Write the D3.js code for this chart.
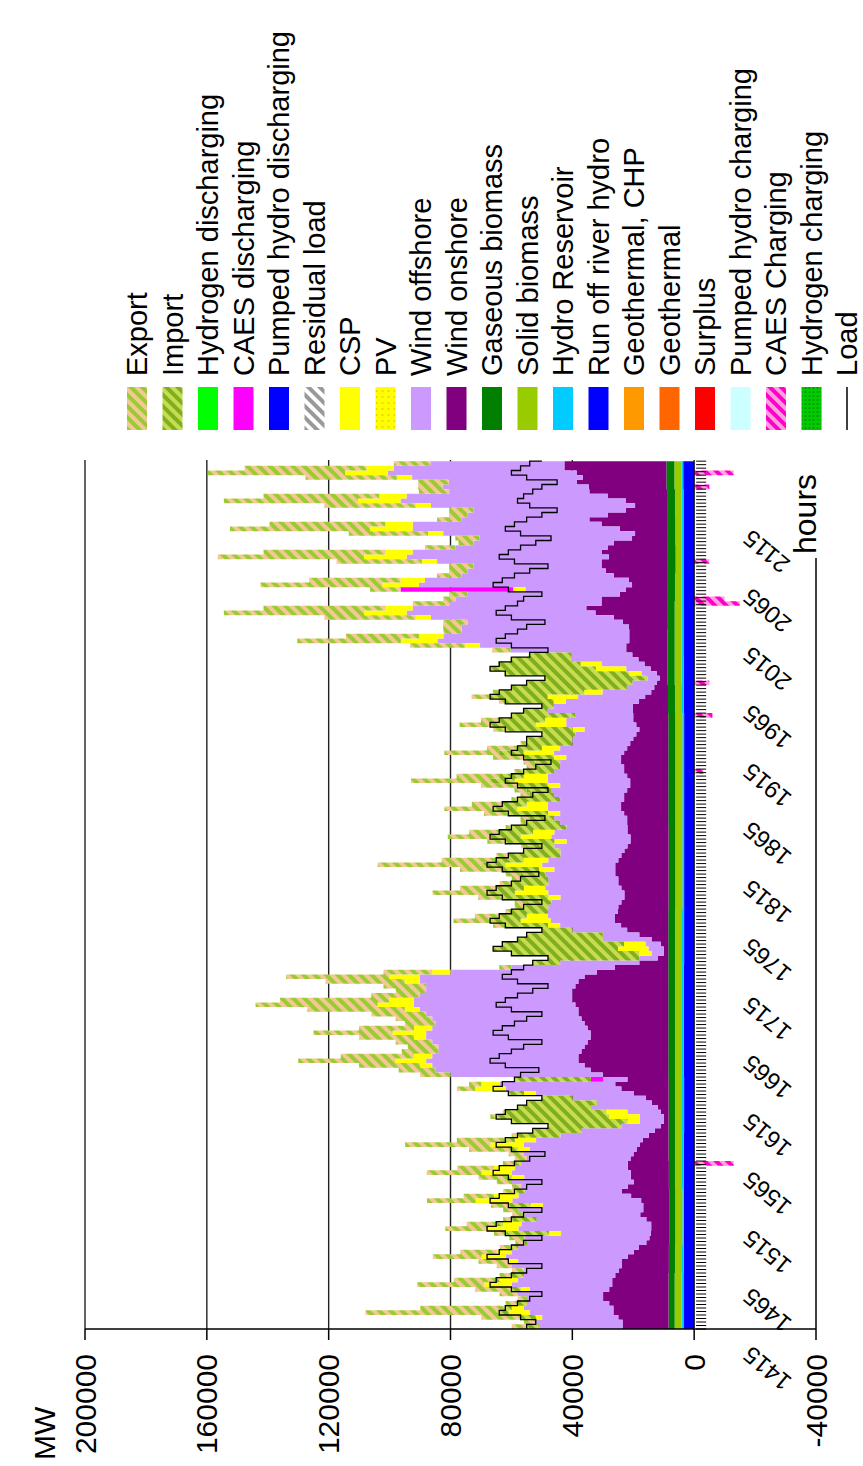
<!DOCTYPE html>
<html><head><meta charset="utf-8">
<script src="https://cdn.jsdelivr.net/npm/d3@7"></script>
<style>body{margin:0;background:#fff}svg{display:block}text{font-family:"Liberation Sans",Arial,sans-serif;fill:#000}</style>
</head><body><svg id="c" width="863" height="1466"></svg>
<script>
// ================= DATA (GW = 1000 MW) =================
// sampled every 4 hours, starting at hour 1415
const hourStart = 1415, hourStep = 4;
const windOnGW = [
15.1,15.1,16.5,18.1,18.1,19.5, 21.5,21.5,19.5,18.5,18.5,17.5, 16.5,15.5,15.5,13.5,11.5,9.9, 7.5,6.5,6,5.9,5.9,7.5,
9.5,8.5,8.5,9.2,12.5,15.5, 13.5,11.5,12.5,12.5,13.5,13.5, 12.5,11.5,10.5,9.5,8.5,6.5, 4.5,2.5,1.5,1.5,2.5,3.5,
5.5,7.5,11.5,15.5,17.5,13.5, 21.5,25.5,27.5,29.5,29.5,28.5, 27.5,26.5,25.5,25.5,26.5,27.5, 28.5,29.5,29.5,30.5,31.5,31.5,
31.5,30.5,29.5,27.5,23.5,17.5, 9.5,3.5,1.5,1.5,2.5,5.5, 9.5,13.5,15.5,17.5,17.5,16.5, 16.5,15.5,14.5,14.5,15.5,16.5,
16.5,17.5,17.5,17.5,16.5,15.5, 14.5,13.5,12.5,12.5,13.5,13.5, 13.5,13.5,14.5,15.5,15.5,14.5, 14.5,13.5,12.5,12.5,13.5,14.5,
14.5,15.5,15.5,14.5,13.5,12.5, 11.5,10.5,9.5,10.5,11.5,11.5, 11.5,11.5,9.5,7.5,5.5,4.5, 3.5,2.5,3.5,5.5,7.5,9.5,
11.5,13.5,13.5,12.5,12.5,12.5, 12.5,14.5,17.5,23.5,26.5,21.5, 21.5,15.5,13.5,11.5,12.5,17.5, 20.1,21.5,21.5,19.1,21.5,19.5,
17.5,11.5,10.5,15.5,21.5,25.5, 19.5,13.5,10.5,13.5,19.5,25.5, 25.5,29.5,27.5,29.5,33.5,33.5, 33.5];
const windOffGW = [
27.4,28.4,25,27.4,29.4,27, 25,28,26,33,31,30, 31,36,34,40,40,39.6, 39,41,29.5,43.6,42.6,36,
38,41,33,42.3,37,32, 35,40,35,39,37,35, 34,36,35,38,35,29, 24,13,8,8,11,22,
18,24,32,38,38,8, 50,51,50,50,48,47, 48,51,54,54,51,49, 49,50,52,53,52,50,
48,49,52,54,48,34, 26,6,4,5,5,16, 12,18,20,21,22,23, 23,23,21,25,25,23,
23,23,20,24,23,20, 21,24,21,26,24,20, 22,24,21,24,24,21, 23,25,23,27,26,23,
21,20,18,23,22,19, 20,20,18,23,22,19, 28,26,24,22,16,9, 8,4,5,8,14,22,
20,38,48,63,61,55, 55,51,60,62,57,50, 48,50,33,70,67,50, 45.4,42,54,66.4,62,50,
46,50,63,68,62,42, 46,50,67,74,66,46, 48,42,56,62,56,44, 46];
const pvGW = [
0,0,2,7,4,0, 0,0,3,9,6,0, 0,0,3,8,5,0, 0,0,4,10,6,0,
0,0,4,12,8,0, 0,0,4,10,7,0, 0,0,4,11,7,0, 0,0,4,10,7,0,
0,0,4,10,6,0, 0,0,4,10,6,0, 0,0,4,11,6,0, 0,0,5,12,8,0,
0,0,5,10,6,0, 0,0,4,10,7,0, 0,0,4,10,7,0, 0,0,4,11,7,0,
0,0,5,12,8,0, 0,0,4,10,7,0, 0,0,4,10,7,0, 0,0,4,11,8,0,
0,0,4,10,6,0, 0,0,4,10,7,0, 0,0,4,10,6,0, 0,0,4,10,7,0,
0,0,5,12,8,0, 0,0,5,14,9,0, 0,0,4,12,8,0, 0,0,5,14,9,0,
0,0,5,14,9,0, 0,0,5,14,9,0, 0,0,5,14,9,0, 0];
const importGW = [
4,0,5,3,2,3, 0,0,3,0,1,4, 0,0,0,0,0,2, 1,0,14,0,2,8,
0,0,7,0,0,3, 0,0,1,0,0,2, 0,0,2,0,3,14, 16,24,38,37,33,24,
23,10,5,0,0,25, 0,0,0,0,0,0, 0,0,0,0,0,0, 0,0,0,0,0,0,
0,0,0,0,0,0, 9,30,42,41,40,28, 25,10,14,10,9,12, 8,8,15,9,9,12,
9,8,12,8,9,17, 12,8,16,10,11,18, 11,8,13,8,8,14, 8,8,10,8,8,10,
8,8,10,8,8,15, 15,11,22,15,15,21, 8,4,16,19,28,38, 35,34,41,35,27,20,
14,0,0,0,0,0, 0,0,0,0,0,0, 0,0,0,0,0,0, 0,0,0,0,0,0,
0,0,0,0,0,0, 0,0,0,0,0,0, 0,0,0,0,0,0, 0];
const exportGW = [
5,4,13,44,28,4, 3,6,12,22,14,4, 4,5,10,16,12,4, 3,5,4,14,10,3,
4,5,6,16,10,4, 3,5,10,18,12,4, 4,5,14,28,16,2, 0,0,0,2,1,0,
0,0,0,6,4,0, 10,12,20,32,24,12, 10,12,18,26,18,10, 12,18,32,40,36,16,
10,14,26,34,16,4, 0,0,0,0,0,0, 0,0,4,12,8,2, 3,4,8,18,12,4,
3,5,14,34,18,4, 0,3,6,14,10,2, 2,3,8,16,10,2, 3,4,12,26,14,3,
3,4,10,18,10,2, 0,0,4,10,6,0, 0,0,2,6,2,0, 0,0,0,0,0,0,
0,6,18,34,24,6, 6,8,30,46,40,12, 4,6,10,40,30,8, 6,8,28,48,40,10,
5,8,26,46,38,8, 6,8,30,44,38,10, 8,10,30,45,40,12, 10];
const loadGW = [
55,52,57,64,62,58, 54,50,60,67,65,60, 55,50,61,68,64,60, 56,50,62,68,65,60,
56,50,61,67,64,59, 55,50,61,66,64,59, 54,49,60,65,62,58, 53,48,60,65,62,58,
55,50,61,66,63,59, 57,51,62,67,64,60, 56,50,61,66,63,59, 55,50,60,65,62,58,
53,48,58,63,60,56, 53,48,60,66,63,58, 55,50,62,67,64,60, 56,50,63,68,65,60,
57,51,63,68,65,61, 56,50,62,67,64,60, 55,49,61,66,63,58, 53,48,58,62,60,56,
52,47,56,60,58,55, 55,50,62,67,64,60, 56,50,62,67,64,60, 55,49,62,67,64,60,
54,48,60,65,62,58, 55,49,60,65,62,58, 56,50,61,66,63,59, 54,48,59,64,61,57,
52,47,57,62,59,55, 50,45,54,58,56,53, 50,45,55,60,57,54, 50];
// slowly varying base generation, one value per day (24 h) from hour 1415
const riverDayGW  = [3.5,3.5,3.4,3.4,3.4,3.4,3.4,3.3,3.3,3.4,3.4,3.4,3.4,3.3,3.3,3.3,3.3,3.3,3.3,3.3,3.3,3.3,3.4,3.4,3.5,3.5,3.5,3.5,3.5,3.5,3.6,3.6];
const reservoirDayGW = [0.6,0.6,0.6,0.5,0.5,0.6,0.6,0.7,0.7,0.6,0.6,0.6,0.6,0.7,0.7,0.6,0.6,0.6,0.6,0.6,0.6,0.6,0.6,0.7,0.6,0.6,0.6,0.6,0.6,0.6,0.6,0.6];
const solidDayGW  = [2.3,2.3,2.3,2.3,2.3,2.3,2.3,2.3,2.3,2.3,2.3,2.3,2.3,2.3,2.3,2.3,2.3,2.3,2.3,2.3,2.3,2.3,2.3,2.3,2.3,2.3,2.2,2.0,2.1,2.2,2.3,2.3];
const gasDayGW    = [2.0,2.0,2.0,2.0,2.0,2.0,2.1,2.1,2.1,2.2,2.2,2.2,2.2,2.2,2.2,2.2,2.2,2.2,2.3,2.3,2.3,2.3,2.3,2.4,2.4,2.5,2.6,2.8,2.7,2.6,2.6,2.6];
// sparse storage events
const caesDisHours = [1627, 2047];
const caesDisGW    = [4, 37];
const caesChargeHours = [1555, 1891, 1939, 1967, 2035, 2039, 2071, 2135, 2147];
const caesChargeGW    = [-13, -3, -6, -5, -15, -10, -5, -5, -13];

const yTicks = [200000,160000,120000,80000,40000,0,-40000];
const hourTicks = [1415,1465,1515,1565,1615,1665,1715,1765,1815,1865,1915,1965,2015,2065,2115];
const legendNames = ["Export","Import","Hydrogen discharging","CAES discharging","Pumped hydro discharging","Residual load","CSP","PV","Wind offshore","Wind onshore","Gaseous biomass","Solid biomass","Hydro Reservoir","Run off river hydro","Geothermal, CHP","Geothermal","Surplus","Pumped hydro charging","CAES Charging","Hydrogen charging","Load"];

// ================= DRAWING =================
const svg = d3.select("#c");
const defs = svg.append("defs");
function stripes(id, c1, c2, w, angle){
  const p = defs.append("pattern").attr("id",id).attr("patternUnits","userSpaceOnUse")
    .attr("width",w).attr("height",w).attr("patternTransform",`rotate(${angle})`);
  p.append("rect").attr("width",w).attr("height",w).attr("fill",c1);
  p.append("rect").attr("width",w/2).attr("height",w).attr("fill",c2);
}
stripes("pExport","#f4c894","#99cc33",8,45);
stripes("pImport","#c8dc50","#7fae1e",8,45);
stripes("pResid","#ffffff","#999999",8,45);
stripes("pCaesC","#ff9fdc","#ff00cc",8,45);
(function(){
  const p = defs.append("pattern").attr("id","pPV").attr("patternUnits","userSpaceOnUse").attr("width",6).attr("height",6);
  p.append("rect").attr("width",6).attr("height",6).attr("fill","#ffff00");
  p.append("circle").attr("cx",3).attr("cy",3).attr("r",0.9).attr("fill","#f0c000");
  const q = defs.append("pattern").attr("id","pH2C").attr("patternUnits","userSpaceOnUse").attr("width",4).attr("height",4);
  q.append("rect").attr("width",4).attr("height",4).attr("fill","#00cc00");
  q.append("circle").attr("cx",2).attr("cy",2).attr("r",0.8).attr("fill","#006600");
})();

const legendFill = {"Export":"url(#pExport)","Import":"url(#pImport)","Hydrogen discharging":"#00ff00","CAES discharging":"#ff00ff",
 "Pumped hydro discharging":"#0000ff","Residual load":"url(#pResid)","CSP":"#ffff00","PV":"url(#pPV)","Wind offshore":"#cc99ff",
 "Wind onshore":"#800080","Gaseous biomass":"#007f00","Solid biomass":"#99cc00","Hydro Reservoir":"#00ccff","Run off river hydro":"#0000ff",
 "Geothermal, CHP":"#ff9900","Geothermal":"#ff6600","Surplus":"#ff0000","Pumped hydro charging":"#ccffff","CAES Charging":"url(#pCaesC)",
 "Hydrogen charging":"url(#pH2C)"};

// chart is laid out in its own frame and turned 90 degrees counter-clockwise
const g = svg.append("g").attr("transform","translate(0,1466) rotate(-90)");
const x = d3.scaleLinear().domain([1415,2160]).range([137,1006]);
const y = d3.scaleLinear().domain([-40000,200000]).range([816,85]);

g.selectAll(".grid").data(yTicks.filter(v=>v>0)).join("line")
  .attr("x1",x(1415)).attr("x2",x(2160)).attr("y1",d=>y(d)).attr("y2",d=>y(d))
  .attr("stroke","#222").attr("stroke-width",1.4);

const rows = windOnGW.map((_,k)=>{
  const h = hourStart + k*hourStep, d = Math.floor(k/6);
  const ci = caesDisHours.indexOf(h), cc = caesChargeHours.indexOf(h);
  return {hour:h, river:riverDayGW[d]*1000, res:reservoirDayGW[d]*1000, solid:solidDayGW[d]*1000, gas:gasDayGW[d]*1000,
    on:windOnGW[k]*1000, off:windOffGW[k]*1000, pv:pvGW[k]*1000, caesD:(ci>=0?caesDisGW[ci]*1000:0),
    imp:importGW[k]*1000, exp:exportGW[k]*1000, caesC:(cc>=0?caesChargeGW[cc]*1000:0), load:loadGW[k]*1000};
});
const keys = ["river","res","solid","gas","on","off","pv","caesD","imp","exp","caesC"];
const keyFill = {river:"#0000ff",res:"#00ccff",solid:"#99cc00",gas:"#007f00",on:"#800080",off:"#cc99ff",pv:"#ffff00",
  caesD:"#ff00ff",imp:"url(#pImport)",exp:"url(#pExport)",caesC:"url(#pCaesC)"};
const series = d3.stack().keys(keys).offset(d3.stackOffsetDiverging)(rows);
const area = d3.area().curve(d3.curveStepAfter).x(d=>x(d.data.hour)).y0(d=>y(d[0])).y1(d=>y(d[1]));
g.selectAll(".area").data(series).join("path").attr("d",area).attr("fill",d=>keyFill[d.key]);

g.append("path").datum(rows)
  .attr("d",d3.line().curve(d3.curveStepAfter).x(d=>x(d.hour)).y(d=>y(d.load)))
  .attr("fill","none").attr("stroke","#000").attr("stroke-width",1.3);

// value axis
g.append("line").attr("x1",137).attr("x2",137).attr("y1",y(200000)).attr("y2",y(-40000)).attr("stroke","#000").attr("stroke-width",1.5);
g.selectAll(".yt").data(yTicks).join("line").attr("x1",126).attr("x2",137).attr("y1",d=>y(d)).attr("y2",d=>y(d)).attr("stroke","#000").attr("stroke-width",1.5);
g.selectAll(".yl").data(yTicks).join("text").attr("x",112).attr("y",d=>y(d)).attr("text-anchor","end")
  .attr("dominant-baseline","central").attr("font-size",30).text(d=>d);
g.append("text").attr("x",6).attr("y",55).attr("font-size",30).text("MW");

// hour axis at zero
g.append("line").attr("x1",x(1415)).attr("x2",x(2160)).attr("y1",y(0)).attr("y2",y(0)).attr("stroke","#000").attr("stroke-width",1.2);
const minor = d3.range(1415,2160,3);
g.selectAll(".xt").data(minor).join("line").attr("x1",d=>x(d)).attr("x2",d=>x(d)).attr("y1",y(0)+2).attr("y2",y(0)+12).attr("stroke","#000").attr("stroke-width",1);
g.selectAll(".xl").data(hourTicks).join("text")
  .attr("transform",d=>`translate(${x(d)-16},752) rotate(-50)`).attr("text-anchor","end").attr("font-size",24).text(d=>d);
g.append("line").attr("x1",137).attr("x2",908).attr("y1",816).attr("y2",816).attr("stroke","#000").attr("stroke-width",1.5);
g.append("text").attr("x",912).attr("y",816).attr("font-size",32).text("hours");

// legend
const lg = g.selectAll(".lg").data(legendNames).join("g").attr("transform",(d,i)=>`translate(1036,${137+i*35.5})`);
lg.filter(d=>d!=="Load").append("rect").attr("x",0).attr("y",-10).attr("width",43).attr("height",20).attr("fill",d=>legendFill[d]);
lg.filter(d=>d==="Load").append("line").attr("x1",0).attr("x2",43).attr("y1",0).attr("y2",0).attr("stroke","#000").attr("stroke-width",1.5);
lg.append("text").attr("x",54).attr("y",0).attr("dominant-baseline","central").attr("font-size",29).text(d=>d);
</script></body></html>
